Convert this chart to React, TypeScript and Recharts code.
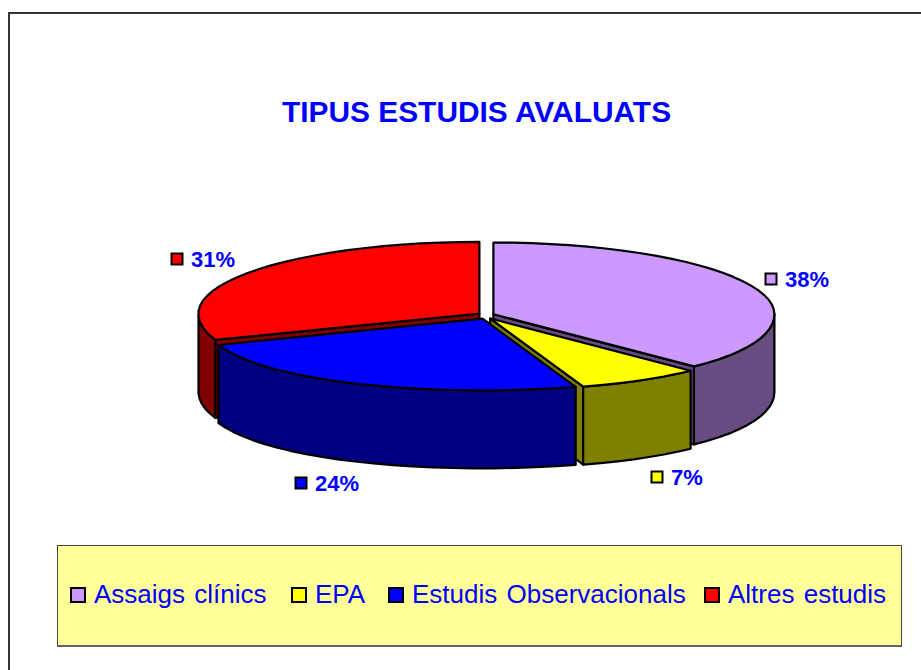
import React from 'react';
import { PieChart, Pie, Legend } from 'recharts';

// drawn back to front, so the red slice comes first and the pie start angle is rotated to match
const categories = ['Altres estudis', 'Assaigs clínics', 'EPA', 'Estudis Observacionals'];
const percents = [31, 38, 7, 24];
const topColors = ['#FF0000', '#CC99FF', '#FFFF00', '#0000FF'];
const wallColors = ['#800000', '#664C80', '#808000', '#000080'];
const legendOrder = ['Assaigs clínics', 'EPA', 'Estudis Observacionals', 'Altres estudis'];
const legendItemWidths = [221, 97, 316, 190];

// where each percentage tag sits (swatch centre)
const labelAnchors = [
  [177, 259],
  [771, 279],
  [657, 477],
  [301, 483],
];

const pieData = categories.map((name, i) => ({
  name,
  value: percents[i],
  fill: topColors[i],
  wall: wallColors[i],
}));

const WIDTH = 921;
const HEIGHT = 670;
const CX = 486;
const CY = 315.5;
const RADIUS = 281;
const FLATTEN = 0.255;
const DEPTH = 78;
const EXPLODE_X = 8;
const EXPLODE_Y = 3.5;
const PERSPECTIVE = 0.08;
const TEXT_BLUE = '#0000FF';
const FONT = '"Liberation Sans", Arial, sans-serif';

const rad = (deg: number) => (deg * Math.PI) / 180;

// t is degrees clockwise from the top of the pie, the near side of the pie is drawn a bit wider
const project = (cx: number, cy: number, t: number, r: number) => {
  const s = Math.sin(rad(t));
  const c = Math.cos(rad(t));
  const widen = c < 0 ? 1 + PERSPECTIVE * c * c : 1;
  return [cx + r * s * widen, cy - r * FLATTEN * c];
};

const toPath = (pts: number[][]) =>
  pts.map((p, i) => `${i ? 'L' : 'M'}${p[0].toFixed(1)},${p[1].toFixed(1)}`).join(' ') + ' Z';

const Slice3D = (props: any) => {
  const { cx, cy, startAngle, endAngle, outerRadius, fill, payload } = props;
  const a = 90 - startAngle;
  const b = 90 - endAngle;
  const from = Math.min(a, b);
  const to = Math.max(a, b);
  const mid = (from + to) / 2;
  const ox = cx + EXPLODE_X * Math.sin(rad(mid));
  const oy = cy - EXPLODE_Y * Math.cos(rad(mid));

  const steps = Math.max(2, Math.ceil((to - from) / 4));
  const arc: number[][] = [];
  for (let i = 0; i <= steps; i++) {
    arc.push(project(ox, oy, from + ((to - from) * i) / steps, outerRadius));
  }
  const wall = payload.wall;
  const tip = [ox, oy];
  const drop = (p: number[]) => [p[0], p[1] + DEPTH];

  // outer rim: only the part of the arc that faces the viewer
  const front = arc.filter((_, i) => Math.cos(rad(from + ((to - from) * i) / steps)) <= 0.02);
  const rim = front.length > 1 ? [...front, ...front.map(drop).reverse()] : null;

  const faces: number[][][] = [];
  // radial cut faces, painter's order hides whatever the next slice covers
  if (Math.cos(rad(from - 90)) < 0) faces.push([tip, arc[0], drop(arc[0]), drop(tip)]);
  if (Math.cos(rad(to + 90)) < 0) faces.push([tip, arc[steps], drop(arc[steps]), drop(tip)]);

  const common = { stroke: '#000', strokeWidth: 2.2, strokeLinejoin: 'round' as const };
  return (
    <g>
      {faces.map((f, i) => (
        <path key={i} d={toPath(f)} fill={wall} {...common} />
      ))}
      {rim && <path d={toPath(rim)} fill={wall} {...common} />}
      <path d={toPath([tip, ...arc])} fill={fill} {...common} />
    </g>
  );
};

const renderLabel = (props: any) => {
  const { index, value, fill } = props;
  const [x, y] = labelAnchors[index];
  return (
    <g key={index}>
      <rect x={x - 5.5} y={y - 5.5} width={11} height={11} fill={fill} stroke="#000" strokeWidth={2} />
      <text x={x + 14} y={y + 7.5} fontFamily={FONT} fontWeight="bold" fontSize={22} fill={TEXT_BLUE}>
        {value}%
      </text>
    </g>
  );
};

const renderLegend = (props: any) => {
  const seen = props.payload || [];
  const items = legendOrder.map((name) => seen.find((p: any) => p.value === name)).filter(Boolean);
  return (
    <div
      style={{
        display: 'flex',
        alignItems: 'center',
        height: '100%',
        paddingLeft: 12,
        paddingBottom: 2,
        boxSizing: 'border-box',
        fontFamily: FONT,
        fontSize: 26,
        wordSpacing: 2,
        color: TEXT_BLUE,
        whiteSpace: 'nowrap',
      }}
    >
      {items.map((item: any, i: number) => (
        <span key={item.value} style={{ display: 'flex', alignItems: 'center', flex: 'none', width: legendItemWidths[i] }}>
          <span
            style={{
              width: 12,
              height: 12,
              background: item.color,
              border: '2px solid #000',
              marginRight: 8,
            }}
          />
          {item.value}
        </span>
      ))}
    </div>
  );
};

export default function App() {
  const redShare = percents[0] / percents.reduce((s, v) => s + v, 0);
  const start = 90 + 360 * redShare;

  return (
    <div style={{ position: 'absolute', left: 0, top: 0, width: WIDTH, height: HEIGHT, overflow: 'hidden', background: '#fff' }}>
      {/* only the top and left edges of the frame are in the picture */}
      <div
        style={{
          position: 'absolute',
          left: 8,
          top: 12,
          width: WIDTH,
          height: HEIGHT,
          borderTop: '2px solid #333',
          borderLeft: '2px solid #333',
        }}
      />
      <div style={{ position: 'absolute', left: 0, top: 0 }}>
        <PieChart width={WIDTH} height={HEIGHT} margin={{ top: 0, right: 0, bottom: 0, left: 0 }}>
          <text x={476.5} y={122} textAnchor="middle" fontFamily={FONT} fontWeight="bold" fontSize={29.9} fill={TEXT_BLUE}>
            TIPUS ESTUDIS AVALUATS
          </text>
          <Pie
            data={pieData}
            dataKey="value"
            nameKey="name"
            cx={CX}
            cy={CY}
            outerRadius={RADIUS}
            startAngle={start}
            endAngle={start - 360}
            paddingAngle={0}
            isAnimationActive={false}
            shape={Slice3D}
            label={renderLabel}
            labelLine={false}
          />
          <Legend
            content={renderLegend}
            itemSorter={null}
            wrapperStyle={{
              position: 'absolute',
              left: 57,
              top: 545,
              bottom: 'auto',
              width: 845,
              height: 102,
              background: '#FFFF99',
              border: '1px solid #444',
              borderBottom: '2px solid #666',
              boxSizing: 'border-box',
            }}
          />
        </PieChart>
      </div>
    </div>
  );
}
